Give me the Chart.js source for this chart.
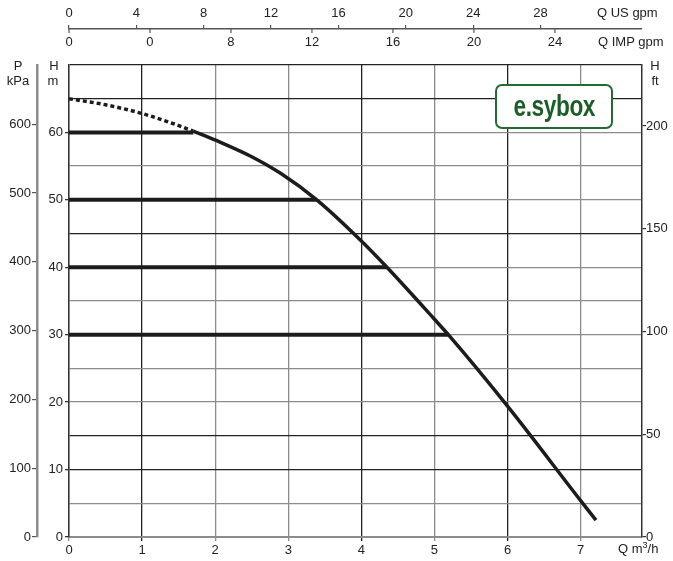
<!DOCTYPE html>
<html>
<head>
<meta charset="utf-8">
<script src="https://cdn.jsdelivr.net/npm/chart.js@4.4.1/dist/chart.umd.min.js"></script>
<style>
  body { margin: 0; background: #fff; }
  #wrap { position: relative; width: 673px; height: 561px; font-family: "Liberation Sans", Arial, sans-serif; color: #222; }
  .lbl { position: absolute; font-size: 13px; line-height: 16px; white-space: nowrap; }
  .c { transform: translateX(-50%); }
  #logo {
    position: absolute; left: 495px; top: 84px; width: 114px; height: 41px;
    border: 2px solid #246a31; border-radius: 7px; background: #fff;
    color: #1b5e27; font-family: "Liberation Sans", Arial, sans-serif;
    font-weight: bold; font-size: 29px; line-height: 40px; text-align: center;
  }
  #logo span { display: inline-block; transform: scaleX(0.78); letter-spacing: -0.5px; }
</style>
</head>
<body>
<div id="wrap">
  <canvas id="chart" width="673" height="561"></canvas>
  <div class="lbl c" style="left:18px;top:58px">P</div>
  <div class="lbl c" style="left:18px;top:73px">kPa</div>
  <div class="lbl c" style="left:54px;top:58px">H</div>
  <div class="lbl c" style="left:53px;top:73px">m</div>
  <div class="lbl c" style="left:655px;top:58px">H</div>
  <div class="lbl c" style="left:655px;top:73px">ft</div>
  <div class="lbl" style="left:618px;top:541px">Q m<span style="font-size:9px;position:relative;top:-5px">3</span>/h</div>
  <div class="lbl" style="left:597px;top:5px">Q US gpm</div>
  <div class="lbl" style="left:598px;top:34px">Q IMP gpm</div>
  <div id="logo"><span>e.sybox</span></div>
</div>
<script>
// curva pompa (Q in m3/h, H in m)
var dashedQ = [0, 0.5, 1.0, 1.4, 1.7];
var dashedH = [65.0, 64.1, 62.8, 61.4, 60.2];

var curveQ = [1.7, 2.06, 2.5, 2.9, 3.39, 4.0, 4.35, 5.0, 5.19, 6.0, 7.0, 7.21];
var curveH = [60.2, 58.6, 56.4, 53.9, 50.0, 43.9, 40.0, 32.3, 30.0, 19.4, 5.4, 2.5];

// linee a pressione costante
var setH = [60, 50, 40, 30];
var setQmax = [1.7, 3.39, 4.35, 5.19];

// scale secondarie
var qMax = 7.84;
var hMax = 70;
var hLabelMax = 60;
var usPerM3h = 4.34;
var impPerM3h = 3.61;
var kPaPerM = 9.8;
var ftPerM = 3.281;
var usTicksMax = 28;
var impTicksMax = 24;
var impLabels = ["0", "0", "8", "12", "16", "20", "24"];

var darkQ = [1, 4, 6];
var darkH = [70, 65, 45, 15, 10];

function pts(xs, ys) {
  return xs.map(function (x, i) { return { x: x, y: ys[i] }; });
}

var datasets = [];
datasets.push({
  data: pts(dashedQ, dashedH), borderColor: "#1c1c1c", borderWidth: 3.5,
  borderDash: [4, 3], cubicInterpolationMode: "monotone", pointRadius: 0
});
datasets.push({
  data: pts(curveQ, curveH), borderColor: "#1c1c1c", borderWidth: 3.5,
  cubicInterpolationMode: "monotone", pointRadius: 0
});
for (var i = 0; i < setH.length; i++) {
  datasets.push({
    data: [{ x: 0, y: setH[i] }, { x: setQmax[i], y: setH[i] }],
    borderColor: "#1c1c1c", borderWidth: 4, pointRadius: 0, borderCapStyle: "butt"
  });
}

var tickFont = { family: "'Liberation Sans', Arial, sans-serif", size: 13 };

function fixW(w) { return function (s) { s.width = w; }; }
function fixH(h) { return function (s) { s.height = h; }; }

var impTicksPlugin = {
  id: "impTicks",
  afterDraw: function (chart) {
    var s = chart.scales.imp;
    var c = chart.ctx;
    c.save();
    c.strokeStyle = "#555";
    c.lineWidth = 1.2;
    s.ticks.forEach(function (t) {
      var x = s.getPixelForValue(t.value);
      c.beginPath();
      c.moveTo(x, s.top);
      c.lineTo(x, s.top + 4);
      c.stroke();
    });
    c.restore();
  }
};

new Chart(document.getElementById("chart"), {
  type: "line",
  data: { datasets: datasets },
  options: {
    responsive: false,
    animation: false,
    layout: { padding: { left: 5, right: 3, top: 3, bottom: 0 } },
    plugins: { legend: { display: false }, tooltip: { enabled: false } },
    scales: {
      x: {
        type: "linear", position: "bottom", min: 0, max: qMax,
        ticks: { stepSize: 1, includeBounds: false, padding: 2, color: "#222", font: tickFont },
        grid: {
          color: function (ctx) { return ctx.tick && darkQ.indexOf(ctx.tick.value) >= 0 ? "#222" : "#8c8c8c"; },
          lineWidth: 1.3, tickLength: 4
        },
        border: { color: "#8c8c8c", width: 2 },
        afterFit: fixH(24)
      },
      us: {
        type: "linear", position: "top", weight: 1, min: 0, max: qMax * usPerM3h,
        ticks: { stepSize: 4, includeBounds: false, padding: 4, color: "#222", font: tickFont },
        afterBuildTicks: function (s) { s.ticks = s.ticks.filter(function (t) { return t.value <= usTicksMax; }); },
        grid: { drawOnChartArea: false, color: "#555", tickLength: 4, lineWidth: 1.2 },
        border: { color: "#555", width: 1.5 },
        afterFit: fixH(26)
      },
      imp: {
        type: "linear", position: "top", weight: 0, min: 0, max: qMax * impPerM3h,
        ticks: {
          stepSize: 4, includeBounds: false, padding: 15, color: "#222", font: tickFont,
          callback: function (v, i) { return impLabels[i]; }
        },
        afterBuildTicks: function (s) { s.ticks = s.ticks.filter(function (t) { return t.value <= impTicksMax; }); },
        grid: { display: false, drawTicks: false },
        border: { display: false },
        afterFit: fixH(36)
      },
      y: {
        type: "linear", position: "left", weight: 0, min: 0, max: hMax,
        ticks: {
          stepSize: 5, padding: 2, color: "#222", font: tickFont,
          callback: function (v) { return v % 10 === 0 && v <= hLabelMax ? v : ""; }
        },
        grid: {
          color: function (ctx) { return ctx.tick && darkH.indexOf(ctx.tick.value) >= 0 ? "#222" : "#8c8c8c"; },
          tickColor: function (ctx) { return ctx.tick && ctx.tick.value % 10 === 0 && ctx.tick.value <= hLabelMax ? "#333" : "rgba(0,0,0,0)"; },
          lineWidth: 1.3, tickLength: 4
        },
        border: { color: "#333", width: 1.5 },
        afterFit: fixW(32)
      },
      p: {
        type: "linear", position: "left", weight: 1, min: 0, max: hMax * kPaPerM,
        ticks: { stepSize: 100, includeBounds: false, padding: 1, color: "#222", font: tickFont },
        grid: { drawOnChartArea: false, color: "#555", tickLength: 5, lineWidth: 1.2 },
        border: { color: "#8a8a8a", width: 2.5 },
        afterFit: fixW(32)
      },
      ft: {
        type: "linear", position: "right", min: 0, max: hMax * ftPerM,
        ticks: { stepSize: 50, includeBounds: false, padding: 0, color: "#222", font: tickFont },
        grid: { drawOnChartArea: false, color: "#333", tickLength: 4, lineWidth: 1.2 },
        border: { color: "#333", width: 1.5 },
        afterFit: fixW(28)
      }
    }
  },
  plugins: [impTicksPlugin]
});
</script>
</body>
</html>
